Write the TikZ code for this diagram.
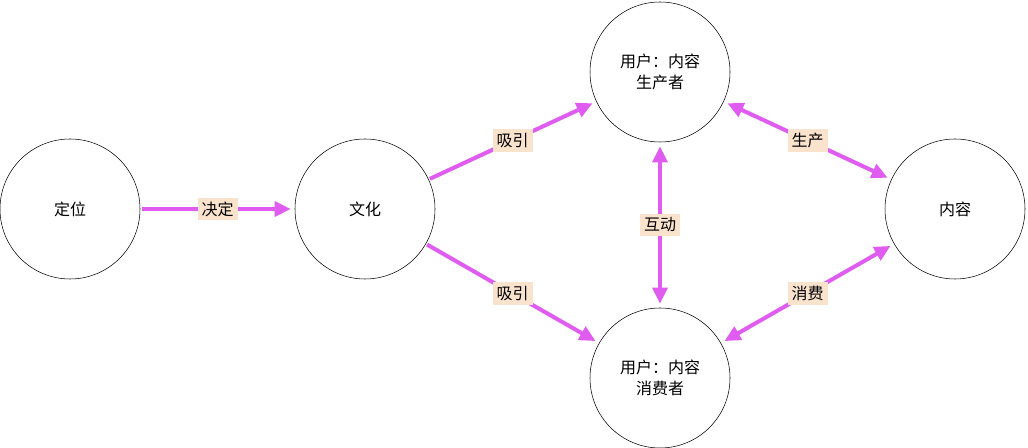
\documentclass[tikz,border=0pt]{standalone}
\usepackage{fontspec}
\setmainfont{Noto Sans CJK SC}
\usetikzlibrary{arrows.meta}
\definecolor{arr}{HTML}{E05CF0}
\definecolor{lab}{HTML}{FAE3CD}
\begin{document}
\begin{tikzpicture}[x=0.75pt,y=-0.75pt,
  circ/.style={draw,circle,minimum size=105pt,inner sep=0pt,font=\fontsize{12}{16}\selectfont,align=center},
  conn/.style={arr,line width=3pt,-{Triangle[length=12pt,width=11pt]},shorten >=3pt,shorten <=1pt},
  both/.style={conn,{Triangle[length=12pt,width=11pt]}-{Triangle[length=12pt,width=11pt]},shorten <=3pt},
  lbl/.style={fill=lab,inner sep=3pt,font=\fontsize{12}{14}\selectfont,text=black}]
\useasboundingbox (0,0) rectangle (1028,448);
\node[circ] (dw) at (70,209) {定位};
\node[circ] (wh) at (365,209) {文化};
\node[circ] (sc) at (660,72) {用户：内容\\生产者};
\node[circ] (xf) at (660,378) {用户：内容\\消费者};
\node[circ] (nr) at (955,209) {内容};
\draw[conn] (dw) -- node[lbl]{决定} (wh);
\draw[conn] (wh) -- node[lbl]{吸引} (sc);
\draw[conn] (wh) -- node[lbl]{吸引} (xf);
\draw[both] (sc) -- node[lbl]{互动} (xf);
\draw[both] (sc) -- node[lbl]{生产} (nr);
\draw[both] (xf) -- node[lbl]{消费} (nr);
\end{tikzpicture}
\end{document}
